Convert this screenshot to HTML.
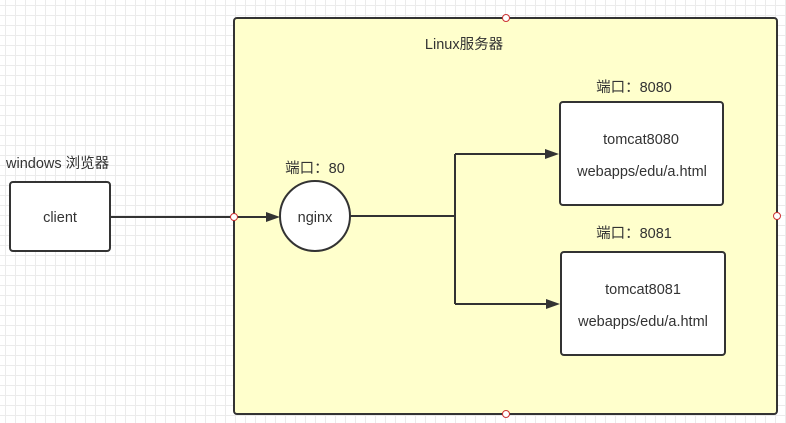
<!DOCTYPE html><html><head><style>body{margin:0;width:786px;height:423px;overflow:hidden;background:#fff;background-image:linear-gradient(#ebebeb 1px,transparent 1px),linear-gradient(90deg,#ebebeb 1px,transparent 1px);background-size:10px 10px;background-position:-5px -5px}</style></head><body>
<svg width="786" height="423" style="position:absolute;left:0;top:0" font-family="Liberation Sans, Noto Sans CJK SC, sans-serif" font-size="14.5" fill="#333">
<rect x="234" y="18" width="543" height="396" rx="3" fill="#ffffcc" stroke="#333" stroke-width="2"/>
<rect x="10" y="182" width="100" height="69" rx="3" fill="#fff" stroke="#333" stroke-width="2"/>
<circle cx="315" cy="216" r="35" fill="#fff" stroke="#333" stroke-width="2"/>
<rect x="560" y="102" width="163" height="103" rx="3" fill="#fff" stroke="#333" stroke-width="2"/>
<rect x="561" y="252" width="164" height="103" rx="3" fill="#fff" stroke="#333" stroke-width="2"/>
<g stroke="#333" stroke-width="2" fill="none">
<path d="M110 217H268"/><path d="M350 216H455M455 154V304M455 154H546M455 304H547"/></g>
<g fill="#333"><path d="M280 217l-14-5v10z"/><path d="M559 154l-14-5v10z"/><path d="M560 304l-14-5v10z"/></g>
<g fill="#fff" stroke="#c33" stroke-width="1"><circle cx="234" cy="217" r="3.5"/><circle cx="506" cy="18" r="3.5"/><circle cx="777" cy="216" r="3.5"/><circle cx="506" cy="414" r="3.5"/></g>
<text x="6" y="168">windows 浏览器</text>
<text x="60" y="222" text-anchor="middle">client</text>
<text x="315" y="173" text-anchor="middle">端口：80</text>
<text x="315" y="222" text-anchor="middle">nginx</text>
<text x="464" y="49" text-anchor="middle">Linux服务器</text>
<text x="634" y="92" text-anchor="middle">端口：8080</text>
<text x="641" y="144" text-anchor="middle">tomcat8080</text>
<text x="642" y="176" text-anchor="middle">webapps/edu/a.html</text>
<text x="634" y="238" text-anchor="middle">端口：8081</text>
<text x="643" y="294" text-anchor="middle">tomcat8081</text>
<text x="643" y="326" text-anchor="middle">webapps/edu/a.html</text>
</svg></body></html>
